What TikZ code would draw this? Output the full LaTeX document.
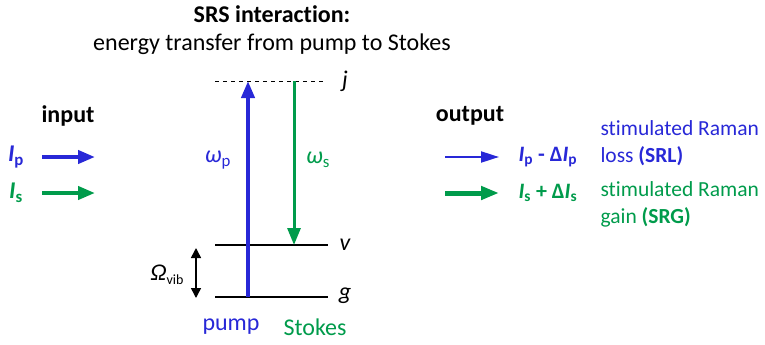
\documentclass[tikz,border=0pt]{standalone}
\usepackage{fontspec}
\setmainfont{Carlito}[Ligatures=NoCommon]
\usepackage{xcolor}
\definecolor{srsblue}{RGB}{40,40,215}
\definecolor{srsgreen}{RGB}{0,155,75}
\usetikzlibrary{arrows.meta}
\newcommand{\lowidx}[1]{\textsubscript{#1}}

\begin{document}
\begin{tikzpicture}[x=1pt, y=-1pt,
    font=\fontsize{24}{27}\selectfont,
    level/.style={line width=1.5pt},
    beam/.style={-{Triangle[length=17pt,width=13pt]}, line width=4pt},
    thinbeam/.style={-{Triangle[length=18pt,width=11pt]}, line width=2pt},
    fatbeam/.style={-{Triangle[length=18pt,width=13pt]}, line width=5pt},
    note/.style={anchor=west, align=left, font=\fontsize{21.5}{27}\selectfont}]
  \useasboundingbox (0,0) rectangle (765,345);

  % Title
  \node[font=\fontsize{24}{27}\selectfont\bfseries] (title) at (272,14) {SRS interaction:};
  \node (subtitle) at (272,44) {energy transfer from pump to Stokes};

  % Energy levels
  \coordinate (j-l) at (215,81);  \coordinate (j-r) at (326,81);
  \coordinate (v-l) at (215,245); \coordinate (v-r) at (328,245);
  \coordinate (g-l) at (215,297); \coordinate (g-r) at (328,297);
  \draw[level, dashed, line width=1pt, dash pattern=on 4pt off 4pt] (j-l) -- (j-r);
  \draw[level] (v-l) -- (v-r);
  \draw[level] (g-l) -- (g-r);
  \node[font=\fontsize{24}{27}\selectfont\itshape] (jlab) at (345,81) {j};
  \node[font=\fontsize{24}{27}\selectfont\itshape] (vlab) at (345,245) {v};
  \node[font=\fontsize{24}{27}\selectfont\itshape] (glab) at (345,296) {g};

  % Pump and Stokes transitions
  \coordinate (pump-g) at (248,297); \coordinate (pump-j) at (248,81);
  \coordinate (stokes-j) at (294,81); \coordinate (stokes-v) at (294,245);
  \draw[beam, srsblue] (pump-g) -- (pump-j);
  \draw[beam, srsgreen, line width=3pt] (stokes-j) -- (stokes-v);
  \node[srsblue] (omp) at (218,160) {\textit{ω}\lowidx{p}};
  \node[srsgreen] (oms) at (318,160) {\textit{ω}\lowidx{s}};

  % Vibrational spacing
  \coordinate (vib-t) at (196,248); \coordinate (vib-b) at (196,298);
  \draw[{Triangle[length=10pt,width=10pt]}-{Triangle[length=10pt,width=10pt]}, line width=1.5pt] (vib-t) -- (vib-b);
  \node (omvib) at (167,275) {\textit{Ω}\raisebox{-4pt}{\fontsize{14}{15}\selectfont vib}};

  \node[srsblue] (pump) at (231,327) {pump};
  \node[srsgreen] (stokes) at (315,327) {Stokes};

  % Input
  \node[font=\fontsize{24}{27}\selectfont\bfseries] (input) at (68,116) {input};
  \node[srsblue, font=\fontsize{24}{27}\selectfont\bfseries] (Ip) at (16,157) {\textit{I}\lowidx{p}};
  \node[srsgreen, font=\fontsize{24}{27}\selectfont\bfseries] (Is) at (16,193) {\textit{I}\lowidx{s}};
  \coordinate (in-p-a) at (42,157); \coordinate (in-p-b) at (95,157);
  \coordinate (in-s-a) at (42,193); \coordinate (in-s-b) at (95,193);
  \draw[beam, srsblue] (in-p-a) -- (in-p-b);
  \draw[beam, srsgreen] (in-s-a) -- (in-s-b);

  % Output
  \node[font=\fontsize{24}{27}\selectfont\bfseries] (output) at (470,116) {output};
  \coordinate (out-p-a) at (445,157); \coordinate (out-p-b) at (499,157);
  \coordinate (out-s-a) at (445,193); \coordinate (out-s-b) at (499,193);
  \draw[thinbeam, srsblue] (out-p-a) -- (out-p-b);
  \draw[fatbeam, srsgreen] (out-s-a) -- (out-s-b);
  \node[srsblue, font=\fontsize{22}{27}\selectfont\bfseries, anchor=west] (Ipout) at (515,157)
    {\textit{I}\lowidx{p} - Δ\textit{I}\lowidx{p}};
  \node[srsgreen, font=\fontsize{22}{27}\selectfont\bfseries, anchor=west] (Isout) at (515,193)
    {\textit{I}\lowidx{s} + Δ\textit{I}\lowidx{s}};
  \node[note, srsblue] (srl) at (597,143)
    {stimulated Raman\\loss \textbf{(SRL)}};
  \node[note, srsgreen] (srg) at (597,204)
    {stimulated Raman\\gain \textbf{(SRG)}};
\end{tikzpicture}
\end{document}
